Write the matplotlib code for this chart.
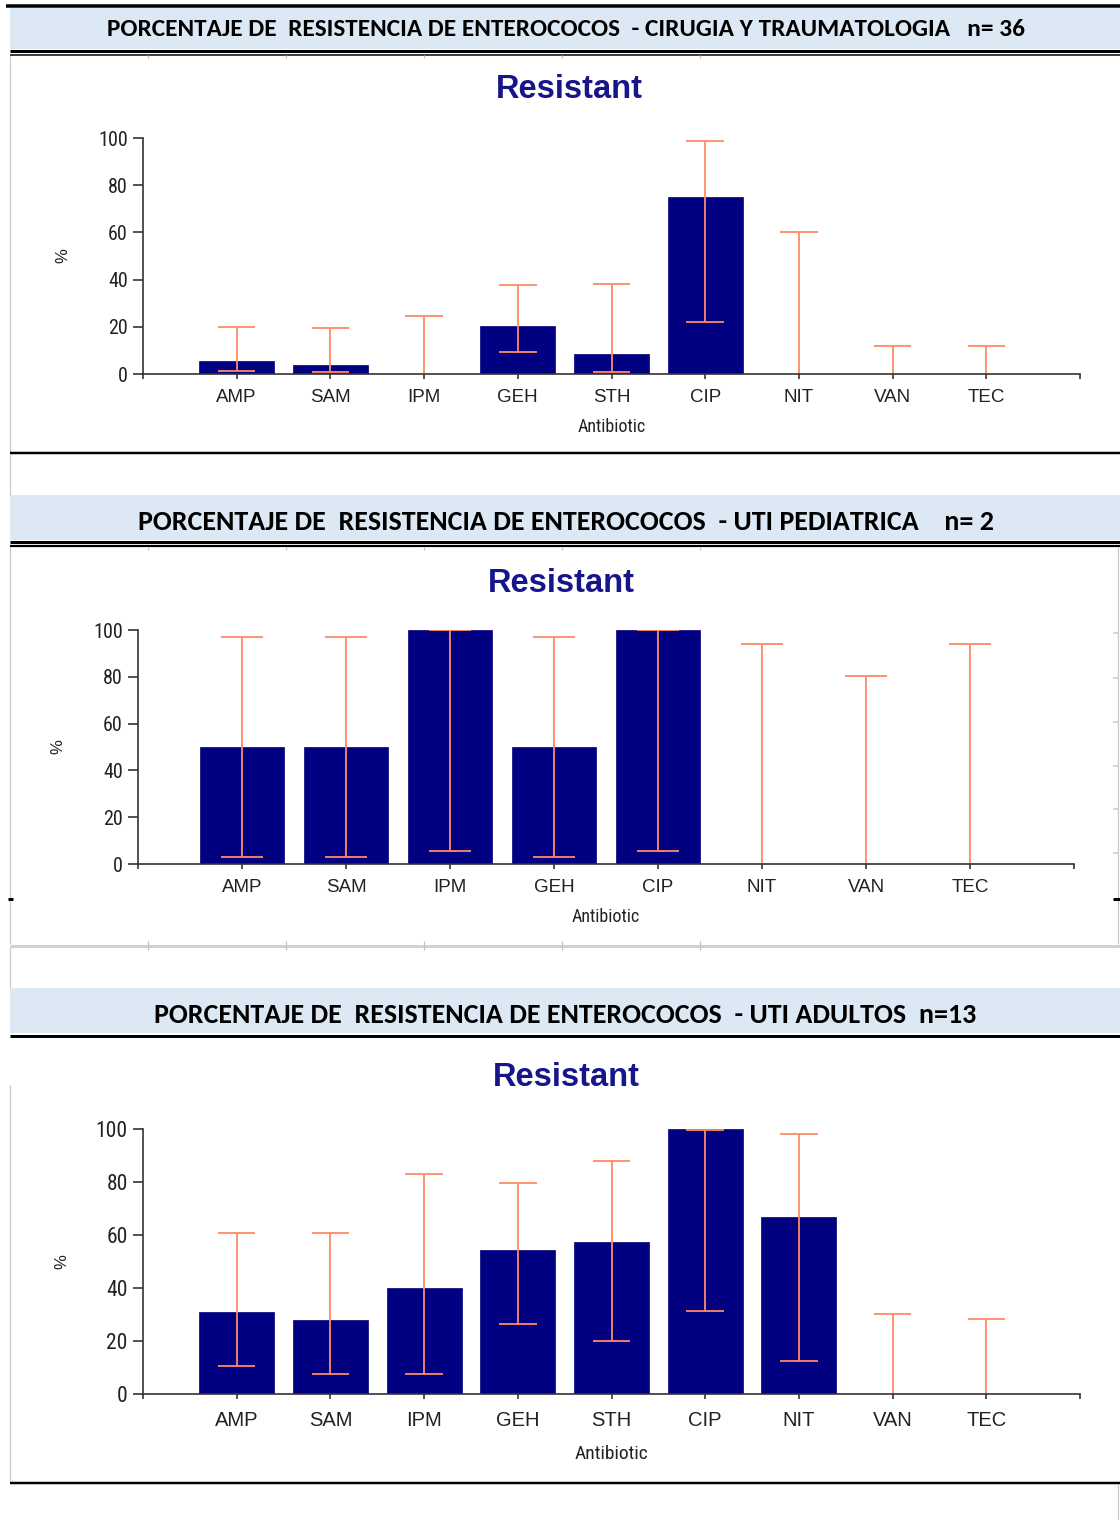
import matplotlib
matplotlib.use("Agg")
import matplotlib.pyplot as plt
from matplotlib.lines import Line2D
from matplotlib.patches import Rectangle
from matplotlib import font_manager as fm

# ---------------- data ----------------
antibiotics_1 = ['AMP', 'SAM', 'IPM', 'GEH', 'STH', 'CIP', 'NIT', 'VAN', 'TEC']
resistant_1 = [5.6, 3.9, 0, 20.3, 8.3, 75.0, 0, 0, 0]
ci_low_1 = [1.4, 0.7, 0, 9.4, 0.7, 21.9, 0, 0, 0]
ci_high_1 = [20.0, 19.4, 24.5, 37.6, 38.2, 98.6, 60.2, 11.9, 11.9]

antibiotics_2 = ['AMP', 'SAM', 'IPM', 'GEH', 'CIP', 'NIT', 'VAN', 'TEC']
resistant_2 = [50, 50, 100, 50, 100, 0, 0, 0]
ci_low_2 = [3.1, 3.1, 5.7, 3.1, 5.7, 0, 0, 0]
ci_high_2 = [97.2, 97.2, 99.8, 97.2, 99.8, 94.2, 80.2, 94.2]

antibiotics_3 = ['AMP', 'SAM', 'IPM', 'GEH', 'STH', 'CIP', 'NIT', 'VAN', 'TEC']
resistant_3 = [30.8, 27.9, 40.0, 54.2, 57.4, 100, 66.8, 0, 0]
ci_low_3 = [10.6, 7.5, 7.5, 26.4, 20.1, 31.3, 12.6, 0, 0]
ci_high_3 = [60.9, 60.9, 82.9, 79.7, 87.9, 99.7, 98.0, 30.1, 28.2]

headers = [
    'PORCENTAJE DE  RESISTENCIA DE ENTEROCOCOS  - CIRUGIA Y TRAUMATOLOGIA   n= 36',
    'PORCENTAJE DE  RESISTENCIA DE ENTEROCOCOS  - UTI PEDIATRICA    n= 2',
    'PORCENTAJE DE  RESISTENCIA DE ENTEROCOCOS  - UTI ADULTOS  n=13',
]
chart_title = 'Resistant'
x_title = 'Antibiotic'
y_title = '%'
y_ticks = [0, 20, 40, 60, 80, 100]

# ---------------- styling ----------------
W, H = 1120, 1520
NAVY = '#000080'
ERR = '#ff8a66'
BAND = '#dce8f4'

_names = set(f.name for f in fm.fontManager.ttflist)


def pick(prefs):
    for p in prefs:
        if p in _names:
            return [p, 'DejaVu Sans']
    return ['DejaVu Sans']


HEAD = pick(['Calibri', 'Carlito', 'Liberation Sans'])
NARROW = pick(['Liberation Sans Narrow', 'Arial Narrow', 'Roboto Condensed', 'PT Sans Narrow',
               'Archivo Narrow', 'Liberation Sans'])
REG = pick(['Liberation Sans', 'Arimo', 'DejaVu Sans'])

fig = plt.figure(figsize=(W / 100, H / 100), dpi=100)
fig.patch.set_facecolor('white')


def fx(x):
    return x / W


def fy(y):
    return 1 - y / H


def hline(y, x0, x1, px, color='black'):
    fig.add_artist(Line2D([fx(x0), fx(x1)], [fy(y), fy(y)], transform=fig.transFigure,
                          color=color, lw=px * 0.72, solid_capstyle='butt'))


def vline(x, y0, y1, px, color='#c8c8c8'):
    fig.add_artist(Line2D([fx(x), fx(x)], [fy(y0), fy(y1)], transform=fig.transFigure,
                          color=color, lw=px * 0.72, solid_capstyle='butt'))


def band(y0, y1, x0=10, x1=1120):
    fig.add_artist(Rectangle((fx(x0), fy(y1)), fx(x1) - fx(x0), fy(y0) - fy(y1),
                             transform=fig.transFigure, facecolor=BAND, edgecolor='none'))


def marks(y0, y1):
    for x in [148, 286, 424, 562, 700]:
        vline(x, y0, y1, 1.2, '#c0c0c0')


# ---- frame decorations ----
hline(5.5, 6, 1120, 3.5)
band(7.5, 49)
hline(50.5, 10, 1120, 3)
hline(54.5, 10, 1120, 1.5)
marks(55, 58)
vline(10, 56, 452, 1.2)
hline(453, 10, 1120, 2.5)
vline(10, 454, 495, 1.2)

band(495, 540)
hline(542, 10, 1120, 3)
hline(546, 10, 1120, 2.2)
marks(547, 550)
vline(10, 547, 944, 1.2)
vline(1118, 547, 944, 1.2)
for yy in [633, 678, 722, 766, 809, 853]:
    hline(yy, 1113, 1118, 1.5, '#c8c8c8')
hline(899, 8, 13, 3)
hline(899, 1113, 1120, 3)
hline(945.5, 10, 1120, 3, '#d2d2d2')
marks(941, 950)
vline(10, 947, 988, 1.2)

band(988, 1033)
hline(1035.5, 10, 1120, 3)
vline(10, 1085, 1481, 1.2)
hline(1483, 10, 1120, 2.5)
vline(1118, 1484, 1520, 1.2)

# headers (font size fitted to the width of the original header text)
renderer = fig.canvas.get_renderer()
for txt, yc, (x0, x1) in zip(headers, [29.5, 521.5, 1015],
                             [(108, 1024), (136, 995), (153, 978)]):
    t = fig.text(fx((x0 + x1) / 2), fy(yc), txt, ha='center', va='center', fontsize=20,
                 fontweight='bold', family=HEAD, color='black')
    wpx = t.get_window_extent(renderer).width
    t.set_fontsize(20 * (x1 - x0) / wpx)


def draw_chart(rect_px, cats, vals, lows, highs, title_xy, xlab_pad, fs):
    left, right, top, bottom = rect_px
    ax = fig.add_axes([fx(left), fy(bottom), fx(right) - fx(left), fy(top) - fy(bottom)])
    n = len(cats)
    xs = list(range(n))
    ax.bar(xs, vals, width=0.8, color=NAVY, edgecolor=NAVY, linewidth=0.5, zorder=2)
    for x, lo, hi in zip(xs, lows, highs):
        ax.plot([x, x], [lo, hi], color=ERR, lw=1.3, zorder=3, solid_capstyle='butt')
        ax.plot([x - 0.2, x + 0.2], [hi, hi], color=ERR, lw=1.3, zorder=3, solid_capstyle='butt')
        if lo > 0:
            ax.plot([x - 0.2, x + 0.2], [lo, lo], color=ERR, lw=1.3, zorder=3,
                    solid_capstyle='butt')
    ax.set_xlim(-1, n)
    ax.set_ylim(0, 100)
    for s in ['top', 'right']:
        ax.spines[s].set_visible(False)
    for s in ['left', 'bottom']:
        ax.spines[s].set_color('#333333')
        ax.spines[s].set_linewidth(1.2)
        ax.spines[s].set_zorder(4)
    ax.set_xticks(xs)
    ax.set_xticklabels(cats, family=REG, fontsize=fs, color='#222222')
    ax.set_xticks([-1, n], minor=True)
    ax.set_yticks(y_ticks)
    ax.set_yticklabels([str(v) for v in y_ticks], family=NARROW, fontsize=fs + 1,
                       color='#222222')
    ax.tick_params(axis='x', which='both', length=3.5, width=1.2, color='#333333', pad=xlab_pad)
    ax.tick_params(axis='y', length=7, width=1.2, color='#333333', pad=4)
    ax.set_xlabel(x_title, family=NARROW, fontsize=fs - 0.5, color='#222222')
    ax.xaxis.set_label_coords(0.5, -0.225)
    ax.xaxis.label.set_va('center')
    ax.set_ylabel(y_title, family=REG, fontsize=12, color='#222222')
    ax.yaxis.set_label_coords((title_xy[2] - left) / (right - left), 0.5)
    ax.yaxis.label.set_va('center')
    ax.set_facecolor('none')
    fig.text(fx(title_xy[0]), fy(title_xy[1]), chart_title, ha='center', va='baseline',
             fontsize=23.5, fontweight='bold', family=REG, color='#16168a')
    return ax


draw_chart((143, 1080, 138, 374), antibiotics_1, resistant_1, ci_low_1, ci_high_1,
           (569, 98, 63), 7.5, 13.5)
draw_chart((138, 1074, 630, 864), antibiotics_2, resistant_2, ci_low_2, ci_high_2,
           (561, 592, 58), 7, 13.5)
draw_chart((143, 1080, 1129, 1394), antibiotics_3, resistant_3, ci_low_3, ci_high_3,
           (566, 1086, 62), 9, 14.5)

fig.savefig('out.png', dpi=100, facecolor='white')
